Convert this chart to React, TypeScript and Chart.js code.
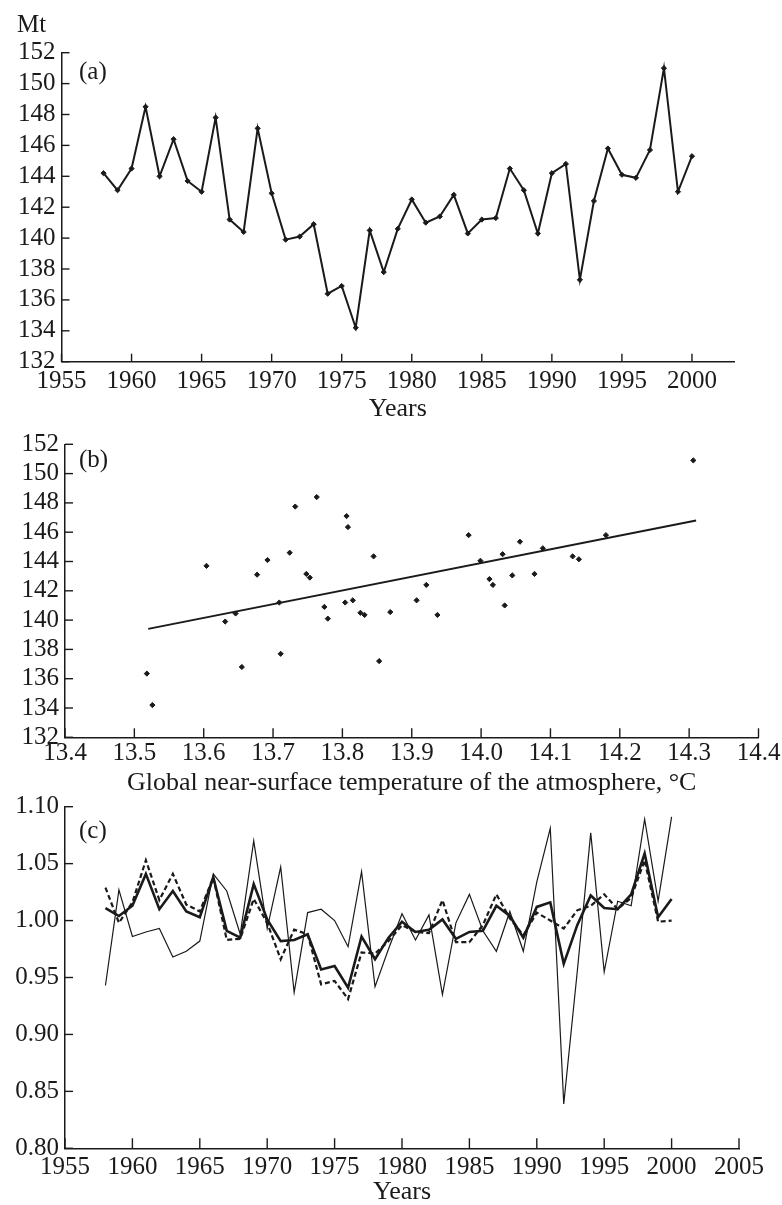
import React, { useEffect, useRef } from "react";
import { Chart, registerables } from "chart.js";

Chart.register(...registerables);

// ---------- data ----------
const years = [
  1958, 1959, 1960, 1961, 1962, 1963, 1964, 1965, 1966, 1967, 1968, 1969, 1970,
  1971, 1972, 1973, 1974, 1975, 1976, 1977, 1978, 1979, 1980, 1981, 1982, 1983,
  1984, 1985, 1986, 1987, 1988, 1989, 1990, 1991, 1992, 1993, 1994, 1995, 1996,
  1997, 1998, 1999, 2000,
];

// (a) production, Mt
const production = [
  144.2, 143.1, 144.5, 148.5, 144.0, 146.4, 143.7, 143.0, 147.8, 141.2, 140.4,
  147.1, 142.9, 139.9, 140.1, 140.9, 136.4, 136.9, 134.2, 140.5, 137.8, 140.6,
  142.5, 141.0, 141.4, 142.8, 140.3, 141.2, 141.3, 144.5, 143.1, 140.3, 144.2,
  144.8, 137.3, 142.4, 145.8, 144.1, 143.9, 145.7, 151.0, 143.0, 145.3,
];

// (b) scatter: temperature vs production
const tempX = [
  13.604, 13.631, 13.646, 13.677, 13.692, 13.709, 13.724, 13.732, 13.748, 13.753,
  13.763, 13.774, 13.779, 13.804, 13.806, 13.808, 13.815, 13.826, 13.832, 13.845,
  13.869, 13.907, 13.921, 13.937, 13.982, 13.999, 14.012, 14.017, 14.031, 14.034,
  14.045, 14.056, 14.077, 14.089, 14.132, 14.141, 14.18, 14.306, 13.518, 13.526,
  13.655, 13.711, 13.853,
];
const tempProd = [
  143.7, 139.9, 140.45, 143.1, 144.1, 141.2, 144.6, 147.75, 143.15, 142.9,
  148.4, 140.9, 140.1, 141.2, 147.1, 146.35, 141.35, 140.5, 140.35, 144.35,
  140.55, 141.35, 142.4, 140.35, 145.8, 144.05, 142.8, 142.4, 144.5, 141.0,
  143.05, 145.35, 143.15, 144.9, 144.35, 144.15, 145.8, 150.9, 136.35, 134.2,
  136.8, 137.7, 137.2,
];
const trendX = [13.52, 14.31];
const trendY = [139.4, 146.8];

// (c) relative series
const ratioThick = [
  1.011, 1.004, 1.013, 1.041, 1.01, 1.026, 1.008, 1.003, 1.038, 0.991, 0.985,
  1.032, 1.001, 0.982, 0.983, 0.988, 0.957, 0.96, 0.941, 0.986, 0.966, 0.985,
  0.999, 0.99, 0.992, 1.001, 0.984, 0.99, 0.991, 1.013, 1.004, 0.985, 1.012,
  1.016, 0.962, 0.996, 1.022, 1.011, 1.01, 1.023, 1.059, 1.003, 1.019,
];
const ratioDashed = [
  1.029, 0.998, 1.016, 1.053, 1.018, 1.041, 1.014, 1.008, 1.038, 0.983, 0.984,
  1.019, 0.998, 0.966, 0.992, 0.988, 0.944, 0.947, 0.931, 0.972, 0.971, 0.982,
  0.996, 0.99, 0.989, 1.018, 0.981, 0.981, 0.996, 1.023, 1.002, 0.987, 1.007,
  1.0, 0.993, 1.009, 1.013, 1.023, 1.01, 1.02, 1.053, 0.999, 1.0,
];
const ratioThin = [
  0.943, 1.027, 0.986, 0.99, 0.993, 0.968, 0.973, 0.982, 1.041, 1.026, 0.988,
  1.07, 0.993, 1.047, 0.937, 1.007, 1.01, 1.0, 0.977, 1.043, 0.942, 0.975,
  1.006, 0.983, 1.005, 0.935, 0.998, 1.023, 0.991, 0.973, 1.008, 0.973, 1.034,
  1.081, 0.839, 0.955, 1.077, 0.955, 1.017, 1.013, 1.089, 1.017, 1.091,
];

// ticks
const yearTicksA = [1955, 1960, 1965, 1970, 1975, 1980, 1985, 1990, 1995, 2000];
const prodTicks = [132, 134, 136, 138, 140, 142, 144, 146, 148, 150, 152];
const tempTicks = [13.4, 13.5, 13.6, 13.7, 13.8, 13.9, 14.0, 14.1, 14.2, 14.3, 14.4];
const yearTicksC = [1955, 1960, 1965, 1970, 1975, 1980, 1985, 1990, 1995, 2000, 2005];
const ratioTicks = [0.8, 0.85, 0.9, 0.95, 1.0, 1.05, 1.1];

const INK = "#1a1a1a";
const FONT = '"Liberation Serif", "Times New Roman", serif';

const inwardTicks = {
  id: "inwardTicks",
  afterDatasetsDraw(chart: any, _args: any, opts: any) {
    const { ctx, chartArea } = chart;
    const lenX = opts.lenX ?? 8;
    const lenY = opts.lenY ?? 8;
    ctx.save();
    ctx.strokeStyle = INK;
    ctx.lineWidth = 1.4;
    const xs = chart.scales.x;
    const ys = chart.scales.y;
    xs.ticks.forEach((t: any) => {
      const px = xs.getPixelForValue(t.value);
      ctx.beginPath();
      ctx.moveTo(px, chartArea.bottom);
      ctx.lineTo(px, chartArea.bottom - lenX);
      ctx.stroke();
    });
    ys.ticks.forEach((t: any) => {
      const py = ys.getPixelForValue(t.value);
      ctx.beginPath();
      ctx.moveTo(chartArea.left, py);
      ctx.lineTo(chartArea.left + lenY, py);
      ctx.stroke();
    });
    ctx.restore();
  },
};

type AxisCfg = {
  min: number;
  max: number;
  ticks: number[];
  fmt: (v: number) => string;
  size: number;
  pad: number;
  title?: string;
  titlePad?: number;
};

function makeScales(x: AxisCfg, y: AxisCfg) {
  return {
    x: {
      type: "linear",
      min: x.min,
      max: x.max,
      afterBuildTicks: (s: any) => {
        s.ticks = x.ticks.map((v) => ({ value: v }));
      },
      afterFit: (s: any) => {
        s.height = x.size;
      },
      grid: { display: false, drawTicks: false },
      border: { display: true, color: INK, width: 1.5 },
      ticks: {
        autoSkip: false,
        maxRotation: 0,
        padding: x.pad,
        color: INK,
        font: { family: FONT, size: 25 },
        callback: (v: any) => x.fmt(Number(v)),
      },
      title: x.title
        ? {
            display: true,
            text: x.title,
            color: INK,
            font: { family: FONT, size: 26, lineHeight: 1 },
            padding: { top: 0, bottom: x.titlePad ?? 0 },
          }
        : { display: false },
    },
    y: {
      type: "linear",
      min: y.min,
      max: y.max,
      afterBuildTicks: (s: any) => {
        s.ticks = y.ticks.map((v) => ({ value: v }));
      },
      afterFit: (s: any) => {
        s.width = y.size;
      },
      grid: { display: false, drawTicks: false },
      border: { display: true, color: INK, width: 1.5 },
      ticks: {
        autoSkip: false,
        padding: y.pad,
        color: INK,
        font: { family: FONT, size: 25 },
        callback: (v: any) => y.fmt(Number(v)),
      },
    },
  };
}

function baseOptions(padding: any, scales: any, tickLen: any) {
  return {
    responsive: false,
    animation: false,
    devicePixelRatio: 1,
    layout: { padding },
    plugins: {
      legend: { display: false },
      tooltip: { enabled: false },
      inwardTicks: tickLen,
    },
    scales,
  };
}

export default function App() {
  const refA = useRef<HTMLCanvasElement>(null);
  const refB = useRef<HTMLCanvasElement>(null);
  const refC = useRef<HTMLCanvasElement>(null);

  useEffect(() => {
    const charts: Chart[] = [];

    // (a)
    charts.push(
      new Chart(refA.current as HTMLCanvasElement, {
        type: "line",
        data: {
          datasets: [
            {
              data: years.map((yr, i) => ({ x: yr, y: production[i] })),
              borderColor: INK,
              borderWidth: 2,
              pointStyle: "rectRot",
              pointRadius: 2.6,
              pointBackgroundColor: INK,
              pointBorderColor: INK,
              pointBorderWidth: 1,
              tension: 0,
            },
          ],
        },
        options: baseOptions(
          { left: 0, right: 48, top: 52.7, bottom: 0 },
          makeScales(
            { min: 1955, max: 2003, ticks: yearTicksA, fmt: (v) => String(v), size: 63.3, pad: 5, title: "Years", titlePad: 3 },
            { min: 132, max: 152, ticks: prodTicks, fmt: (v) => String(v), size: 61.5, pad: 6 }
          ),
          { lenX: 8, lenY: 8 }
        ) as any,
        plugins: [inwardTicks as any],
      })
    );

    // (b)
    charts.push(
      new Chart(refB.current as HTMLCanvasElement, {
        type: "scatter",
        data: {
          datasets: [
            {
              data: tempX.map((t, i) => ({ x: t, y: tempProd[i] })),
              pointStyle: "rectRot",
              pointRadius: 2.6,
              pointBackgroundColor: INK,
              pointBorderColor: INK,
              pointBorderWidth: 1,
              showLine: false,
            },
            {
              type: "line",
              data: trendX.map((t, i) => ({ x: t, y: trendY[i] })),
              borderColor: INK,
              borderWidth: 2,
              pointRadius: 0,
              showLine: true,
            } as any,
          ],
        },
        options: baseOptions(
          { left: 0, right: 23.5, top: 24.3, bottom: 0 },
          makeScales(
            {
              min: 13.4,
              max: 14.4,
              ticks: tempTicks,
              fmt: (v) => v.toFixed(1),
              size: 67.7,
              pad: 1,
              title: "Global near-surface temperature of the atmosphere, °C",
              titlePad: 9,
            },
            { min: 132, max: 152, ticks: prodTicks, fmt: (v) => String(v), size: 65, pad: 6 }
          ),
          { lenX: 9, lenY: 8 }
        ) as any,
        plugins: [inwardTicks as any],
      })
    );

    // (c)
    charts.push(
      new Chart(refC.current as HTMLCanvasElement, {
        type: "line",
        data: {
          datasets: [
            {
              data: years.map((yr, i) => ({ x: yr, y: ratioThin[i] })),
              borderColor: INK,
              borderWidth: 1.2,
              pointRadius: 0,
              tension: 0,
            },
            {
              data: years.map((yr, i) => ({ x: yr, y: ratioDashed[i] })),
              borderColor: INK,
              borderWidth: 2.2,
              borderDash: [5, 3],
              pointRadius: 0,
              tension: 0,
            },
            {
              data: years.map((yr, i) => ({ x: yr, y: ratioThick[i] })),
              borderColor: INK,
              borderWidth: 2.6,
              pointRadius: 0,
              tension: 0,
            },
          ],
        },
        options: baseOptions(
          { left: 0, right: 43, top: 21.7, bottom: 0 },
          makeScales(
            { min: 1955, max: 2005, ticks: yearTicksC, fmt: (v) => String(v), size: 56.7, pad: 4, title: "Years", titlePad: 0 },
            { min: 0.8, max: 1.1, ticks: ratioTicks, fmt: (v) => v.toFixed(2), size: 65, pad: 6 }
          ),
          { lenX: 10, lenY: 8 }
        ) as any,
        plugins: [inwardTicks as any],
      })
    );

    return () => {
      charts.forEach((c) => c.destroy());
    };
  }, []);

  const label = (text: string, left: number, top: number) => (
    <div
      style={{
        position: "absolute",
        left,
        top,
        fontFamily: FONT,
        fontSize: 25,
        lineHeight: "25px",
        color: INK,
        whiteSpace: "nowrap",
      }}
    >
      {text}
    </div>
  );

  return (
    <div
      style={{
        position: "absolute",
        left: 0,
        top: 0,
        width: 782,
        height: 1205,
        overflow: "hidden",
        background: "#fff",
      }}
    >
      <canvas ref={refA} width={782} height={425} style={{ position: "absolute", left: 0, top: 0, width: 782, height: 425 }} />
      <canvas ref={refB} width={782} height={385} style={{ position: "absolute", left: 0, top: 420, width: 782, height: 385 }} />
      <canvas ref={refC} width={782} height={420} style={{ position: "absolute", left: 0, top: 785, width: 782, height: 420 }} />
      {label("Mt", 17, 10.6)}
      {label("(a)", 79, 57.6)}
      {label("(b)", 79, 446)}
      {label("(c)", 79, 817)}
    </div>
  );
}
